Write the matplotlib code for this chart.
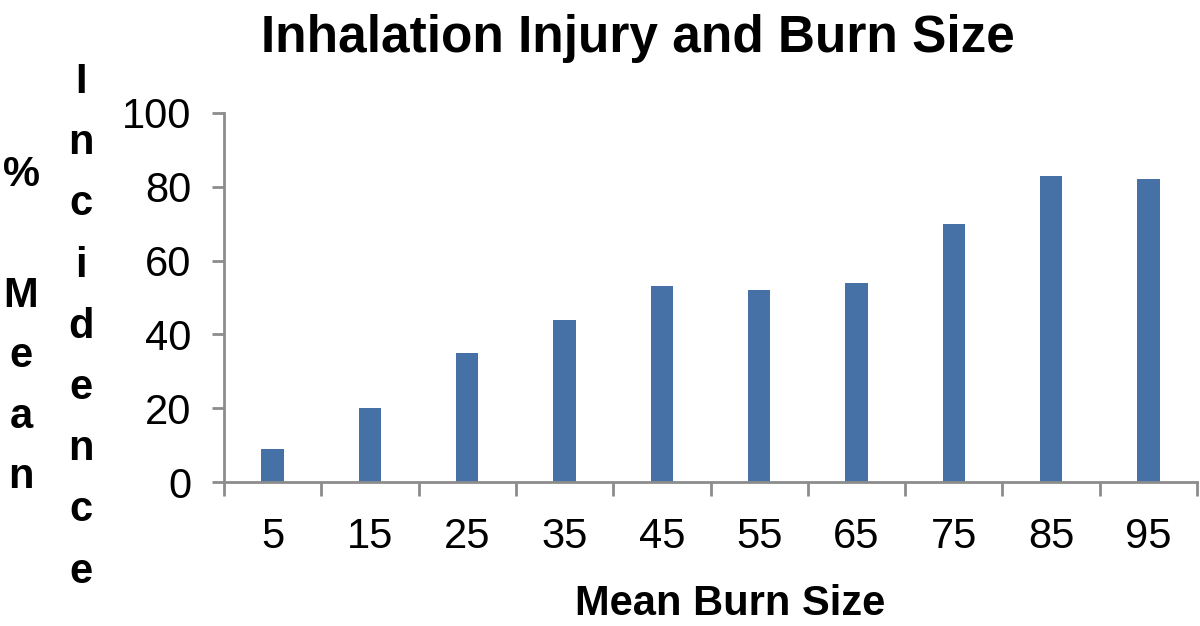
import matplotlib
matplotlib.use("Agg")
import matplotlib.pyplot as plt

categories = ["5", "15", "25", "35", "45", "55", "65", "75", "85", "95"]
values = [9, 20, 35, 44, 53, 52, 54, 70, 83, 82]
title = "Inhalation Injury and Burn Size"
xlabel = "Mean Burn Size"
ylabel_col1 = ["%", "", "M", "e", "a", "n"]
ylabel_col2 = list("Incidence")
yticks = [0, 20, 40, 60, 80, 100]

plt.rcParams['font.family'] = ['Liberation Sans', 'DejaVu Sans']

W, H = 1200, 626
fig = plt.figure(figsize=(W / 100, H / 100), dpi=100)
ax = fig.add_axes([224 / W, 1 - 482 / H, (1197 - 224) / W, (482 - 113) / H])

x = list(range(len(categories)))
ax.bar(x, values, width=0.23, color="#4671A7", zorder=2)

ax.set_xlim(-0.5, len(categories) - 0.5)
ax.set_ylim(0, 100)

gray = "#8C8C8C"
for s in ["top", "right"]:
    ax.spines[s].set_visible(False)
for s in ["left", "bottom"]:
    ax.spines[s].set_color(gray)
    ax.spines[s].set_linewidth(2.0)

ax.set_yticks(yticks)
ax.set_yticklabels([str(v) for v in yticks])
ax.tick_params(axis="y", direction="out", length=9, width=2.0, color=gray,
               labelsize=30, pad=14.5)

ax.set_xticks([i - 0.5 for i in range(len(categories) + 1)])
ax.set_xticklabels([])
ax.set_xticks(x, minor=True)
ax.set_xticklabels(categories, minor=True)
ax.tick_params(axis="x", which="major", direction="out", length=10, width=2.0, color=gray)
ax.tick_params(axis="x", which="minor", length=0, labelsize=30, pad=25)

fig.text(638 / W, 1 - 52 / H, title, ha="center", va="baseline",
         fontsize=37, fontweight="bold")
fig.text(730 / W, 1 - 615 / H, xlabel, ha="center", va="baseline",
         fontsize=30, fontweight="bold")

for k, ch in enumerate(ylabel_col1):
    if ch:
        fig.text(21 / W, 1 - (186 + 60.4 * k) / H, ch, ha="center", va="baseline",
                 fontsize=30, fontweight="bold")
for k, ch in enumerate(ylabel_col2):
    fig.text(81 / W, 1 - (93 + 61.2 * k) / H, ch, ha="center", va="baseline",
             fontsize=30, fontweight="bold")

fig.savefig("out.png", dpi=100, facecolor="white")
